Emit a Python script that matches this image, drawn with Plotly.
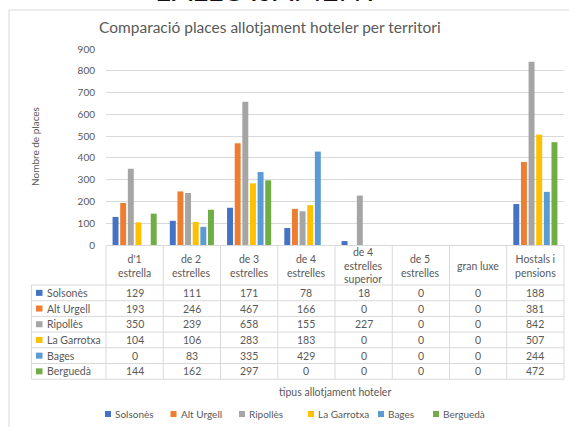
import plotly.graph_objects as go

categories = ["d'1 estrella", "de 2 estrelles", "de 3 estrelles", "de 4 estrelles",
              "de 4 estrelles superior", "de 5 estrelles", "gran luxe", "Hostals i pensions"]
header_labels = ["d'1<br>estrella", "de 2<br>estrelles", "de 3<br>estrelles", "de 4<br>estrelles",
                 "de 4<br>estrelles<br>superior", "de 5<br>estrelles", "gran luxe", "Hostals i<br>pensions"]
series_names = ["Solsonès", "Alt Urgell", "Ripollès", "La Garrotxa", "Bages", "Berguedà"]
solsones = [129, 111, 171, 78, 18, 0, 0, 188]
alt_urgell = [193, 246, 467, 166, 0, 0, 0, 381]
ripolles = [350, 239, 658, 155, 227, 0, 0, 842]
la_garrotxa = [104, 106, 283, 183, 0, 0, 0, 507]
bages = [0, 83, 335, 429, 0, 0, 0, 244]
bergueda = [144, 162, 297, 0, 0, 0, 0, 472]
series_values = [solsones, alt_urgell, ripolles, la_garrotxa, bages, bergueda]
colors = ["#4472C4", "#ED7D31", "#A5A5A5", "#FFC000", "#5B9BD5", "#70AD47"]
y_ticks = [0, 100, 200, 300, 400, 500, 600, 700, 800, 900]

W, H = 569, 427
PL, PR, PT, PB = 106, 564, 49, 245  # plot area in pixels
FONT = "Lato, 'Liberation Sans', sans-serif"
TXT = "#595959"
GRID = "#D9D9D9"


def px(x):
    return (x - PL) / (PR - PL)


def py(y):
    return (PB - y) / (PB - PT)


fig = go.Figure()
for name, vals, col in zip(series_names, series_values, colors):
    fig.add_trace(go.Bar(name=name, x=categories, y=vals, marker=dict(color=col, line=dict(width=0)),
                         showlegend=False))

shapes = []
annotations = []

# chart border
shapes.append(dict(type="line", xref="paper", yref="paper", x0=px(9), x1=px(569), y0=py(10), y1=py(10),
                   line=dict(color=GRID, width=1)))
shapes.append(dict(type="line", xref="paper", yref="paper", x0=px(9), x1=px(9), y0=py(10), y1=py(427),
                   line=dict(color=GRID, width=1)))

# table geometry
ncat = len(categories)
colw = (PR - PL) / ncat
row_lines = [285, 300.7, 316.4, 332.1, 347.8, 363.5, 379.2]
label_left = 31.5
for i in range(ncat + 1):
    xx = PL + i * colw
    shapes.append(dict(type="line", xref="paper", yref="paper", x0=px(xx), x1=px(xx),
                       y0=py(PB), y1=py(row_lines[-1]), line=dict(color=GRID, width=1)))
shapes.append(dict(type="line", xref="paper", yref="paper", x0=px(label_left), x1=px(label_left),
                   y0=py(row_lines[0]), y1=py(row_lines[-1]), line=dict(color=GRID, width=1)))
for yy in row_lines:
    shapes.append(dict(type="line", xref="paper", yref="paper", x0=px(label_left), x1=px(PR),
                       y0=py(yy), y1=py(yy), line=dict(color=GRID, width=1)))

# header labels
for i, lab in enumerate(header_labels):
    annotations.append(dict(xref="x", yref="paper", x=categories[i], y=py(265.5), text=lab,
                            showarrow=False, xanchor="center", yanchor="middle",
                            font=dict(family=FONT, size=10.5, color=TXT), align="center"))

# rows
for r, (name, vals, col) in enumerate(zip(series_names, series_values, colors)):
    yc = (row_lines[r] + row_lines[r + 1]) / 2
    shapes.append(dict(type="rect", xref="paper", yref="paper", x0=px(36), x1=px(42.5),
                       y0=py(yc + 3), y1=py(yc - 3), fillcolor=col, line=dict(width=0)))
    annotations.append(dict(xref="paper", yref="paper", x=px(44.5), y=py(yc), text=name,
                            showarrow=False, xanchor="left", yanchor="middle",
                            font=dict(family=FONT, size=10.5, color=TXT)))
    for i, v in enumerate(vals):
        annotations.append(dict(xref="x", yref="paper", x=categories[i], y=py(yc), text=str(v),
                                showarrow=False, xanchor="center", yanchor="middle",
                                font=dict(family=FONT, size=10.5, color=TXT)))

# x axis title
annotations.append(dict(xref="paper", yref="paper", x=0.5, y=py(392), text="tipus allotjament hoteler",
                        showarrow=False, xanchor="center", yanchor="middle",
                        font=dict(family=FONT, size=10.5, color=TXT)))

# legend (bottom)
leg_x = [105, 170.5, 239, 308, 378, 433]
for name, col, lx in zip(series_names, colors, leg_x):
    shapes.append(dict(type="rect", xref="paper", yref="paper", x0=px(lx), x1=px(lx + 6),
                       y0=py(417), y1=py(411), fillcolor=col, line=dict(width=0)))
    annotations.append(dict(xref="paper", yref="paper", x=px(lx + 8), y=py(414), text=name,
                            showarrow=False, xanchor="left", yanchor="middle",
                            font=dict(family=FONT, size=10, color=TXT)))

# cut-off heading at top
annotations.append(dict(xref="paper", yref="paper", x=px(267), y=py(9), text="L'ALLOTJAMENT",
                        showarrow=False, xanchor="center", yanchor="bottom",
                        font=dict(family=FONT, size=30, color="#111111")))

# chart title
annotations.append(dict(xref="paper", yref="paper", x=px(270), y=py(27), text="Comparació places allotjament hoteler per territori",
                        showarrow=False, xanchor="center", yanchor="middle",
                        font=dict(family=FONT, size=15.5, color=TXT)))

# y axis title
annotations.append(dict(xref="paper", yref="paper", x=px(35), y=py(147), text="Nombre de places",
                        showarrow=False, xanchor="center", yanchor="middle", textangle=-90,
                        font=dict(family=FONT, size=10, color=TXT)))

fig.update_layout(
    width=W, height=H,
    margin=dict(l=PL, r=W - PR, t=PT, b=H - PB, pad=0),
    paper_bgcolor="white", plot_bgcolor="white",
    barmode="group", bargap=0.2, bargroupgap=0.22,
    showlegend=False,
    shapes=shapes, annotations=annotations,
    font=dict(family=FONT, color=TXT),
)
fig.update_xaxes(type="category", categoryorder="array", categoryarray=categories,
                 showticklabels=False, showgrid=False, zeroline=False,
                 showline=False, ticks="")
fig.update_yaxes(range=[0, 900], tickvals=y_ticks, showgrid=True, gridcolor=GRID, gridwidth=1,
                 zeroline=True, zerolinecolor=GRID, zerolinewidth=1, showline=False, ticks="",
                 tickfont=dict(family=FONT, size=10, color=TXT), ticklabelstandoff=10)

fig.write_html("out.html", config={"displayModeBar": False},
               post_script="document.body.style.margin='0';document.body.style.overflow='hidden';")
